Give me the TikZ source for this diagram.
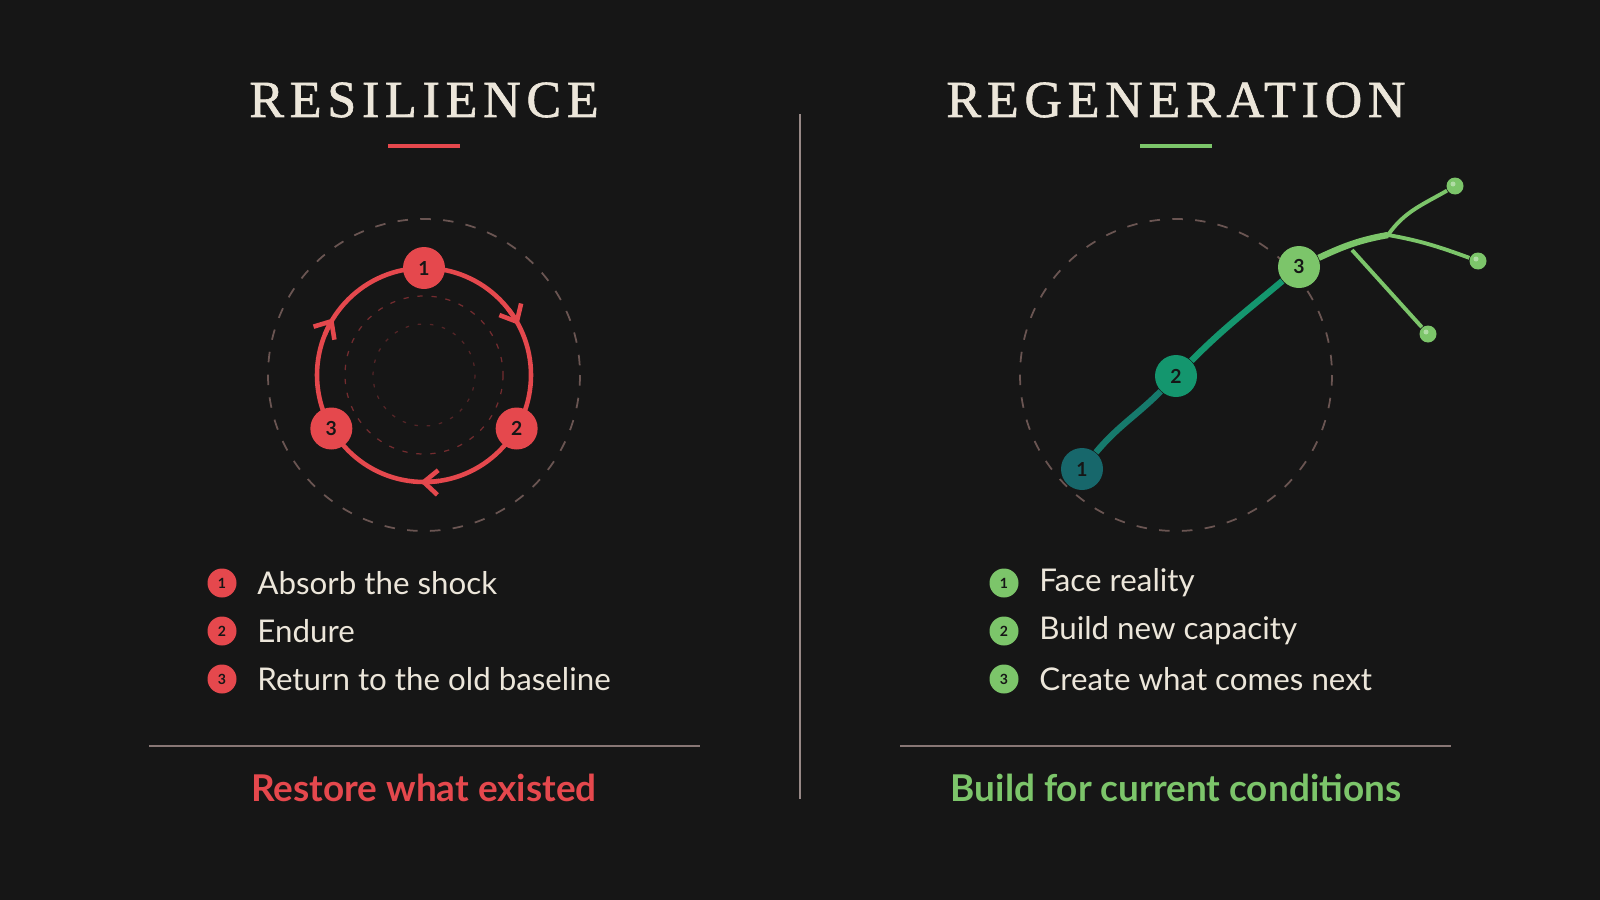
\documentclass[tikz,border=0pt]{standalone}
\usepackage{fontspec}
\setmainfont{Lato}
\newfontfamily\titlefont[LetterSpace=11,FakeBold=1.2]{Liberation Serif}
\usetikzlibrary{arrows.meta}
\definecolor{bg}{HTML}{161616}
\definecolor{red}{HTML}{E5484D}
\definecolor{lgreen}{HTML}{7CC56A}
\definecolor{mgreen}{HTML}{14966E}
\definecolor{teal}{HTML}{17676B}
\definecolor{ink}{HTML}{ECE6DA}
\definecolor{guide}{HTML}{6A5552}
\begin{document}
\begin{tikzpicture}[x=0.01cm,y=-0.01cm]
	% sizes
	\def\rout{156}
	\def\rring{107}
	% style definition
	\tikzstyle{stage} = [circle, minimum size=42*0.01cm, inner sep=0, font=\fontsize{5.5}{6}\selectfont\bfseries, text=bg];
	\tikzstyle{tip} = [circle, minimum size=17*0.01cm, inner sep=0, fill=lgreen];
	\tikzstyle{bullet} = [circle, minimum size=29*0.01cm, inner sep=0, font=\fontsize{4}{5}\selectfont\bfseries, text=bg];
	\tikzstyle{listitem} = [anchor=west, text=ink, font=\fontsize{8.9}{10}\selectfont];
	\tikzstyle{headline} = [text=ink, font=\titlefont\fontsize{14.8}{16}\selectfont];
	\tikzstyle{motto} = [font=\fontsize{10.5}{12}\selectfont\bfseries];
	\tikzstyle{guideline} = [draw=guide, line width=0.5pt, dash pattern=on 3pt off 3.5pt];
	\fill[bg] (0,0) rectangle (1600,900);
	\draw[guide!70, line width=0.4pt] (800,114) -- (800,799);
	% left panel
	\node[headline] (tleft) at (424,100) {RESILIENCE};
	\draw[red, line width=1.2pt] (388,146) -- (460,146);
	\draw[guideline] (424,375) circle (\rout);
	\draw[guideline, red!45!bg, line width=0.35pt, dash pattern=on 1.5pt off 2.5pt] (424,375) circle (79);
	\draw[guideline, red!30!bg, line width=0.35pt, dash pattern=on 1pt off 2.5pt] (424,375) circle (51);
	\draw[red, line width=1.3pt] (424,375) circle (\rring);
	\foreach \a in {-30,-150,90}
		\draw[red, line width=1.3pt, -{Straight Barb[length=4pt,width=7pt]}]
			([shift={(\a-8:\rring)}]424,375) arc[start angle=\a-8, end angle=\a+2, radius=\rring];
	\node[stage, fill=red] (r1) at ([shift={(-90:\rring)}]424,375) {1};
	\node[stage, fill=red] (r2) at ([shift={(30:\rring)}]424,375) {2};
	\node[stage, fill=red] (r3) at ([shift={(150:\rring)}]424,375) {3};
	\foreach \n/\t in {1/Absorb the shock,2/Endure,3/Return to the old baseline} {
		\node[bullet, fill=red] (lb\n) at (222,535+48*\n) {\n};
		\node[listitem] (li\n) at (245,535+48*\n) {\t};
	}
	\draw[guide!80, line width=0.4pt] (149,746) -- (700,746);
	\node[motto, text=red] (mleft) at (424,788) {Restore what existed};
	% right panel
	\node[headline] (tright) at (1176,100) {REGENERATION};
	\draw[lgreen, line width=1.2pt] (1140,146) -- (1212,146);
	\draw[guideline] (1176,375) circle (\rout);
	\coordinate (fork) at (1388,235);
	\coordinate (side) at (1352,250);
	\node[stage, fill=teal] (g1) at (1082,469) {1};
	\node[stage, fill=mgreen] (g2) at (1176,376) {2};
	\node[stage, fill=lgreen] (g3) at (1299,267) {3};
	\node[tip] (d1) at (1455,186) {};
	\node[tip] (d2) at (1478,261) {};
	\node[tip] (d3) at (1428,334) {};
	\draw[teal!60!mgreen, line width=1.8pt] (g1) to[out=50, in=225] (g2);
	\draw[mgreen, line width=1.8pt] (g2) to[out=45, in=220] (g3);
	\draw[lgreen, line width=1.8pt] (g3) to[out=25, in=190] (fork);
	\draw[lgreen, line width=1.1pt] (fork) to[out=55, in=210] (d1);
	\draw[lgreen, line width=1.1pt] (fork) to[out=-10, in=160] (d2);
	\draw[lgreen, line width=1.1pt] (side) -- (d3);
	\foreach \d in {d1,d2,d3}
		\fill[white!40!lgreen] ([shift={(-2,-2)}]\d.center) circle (2.5);
	\foreach \n/\t in {1/Face reality,2/Build new capacity,3/Create what comes next} {
		\node[bullet, fill=lgreen] (rb\n) at (1004,535+48*\n) {\n};
		\node[listitem] (ri\n) at (1027,535+48*\n) {\t};
	}
	\draw[guide!80, line width=0.4pt] (900,746) -- (1451,746);
	\node[motto, text=lgreen] (mright) at (1176,788) {Build for current conditions};
\end{tikzpicture}
\end{document}
